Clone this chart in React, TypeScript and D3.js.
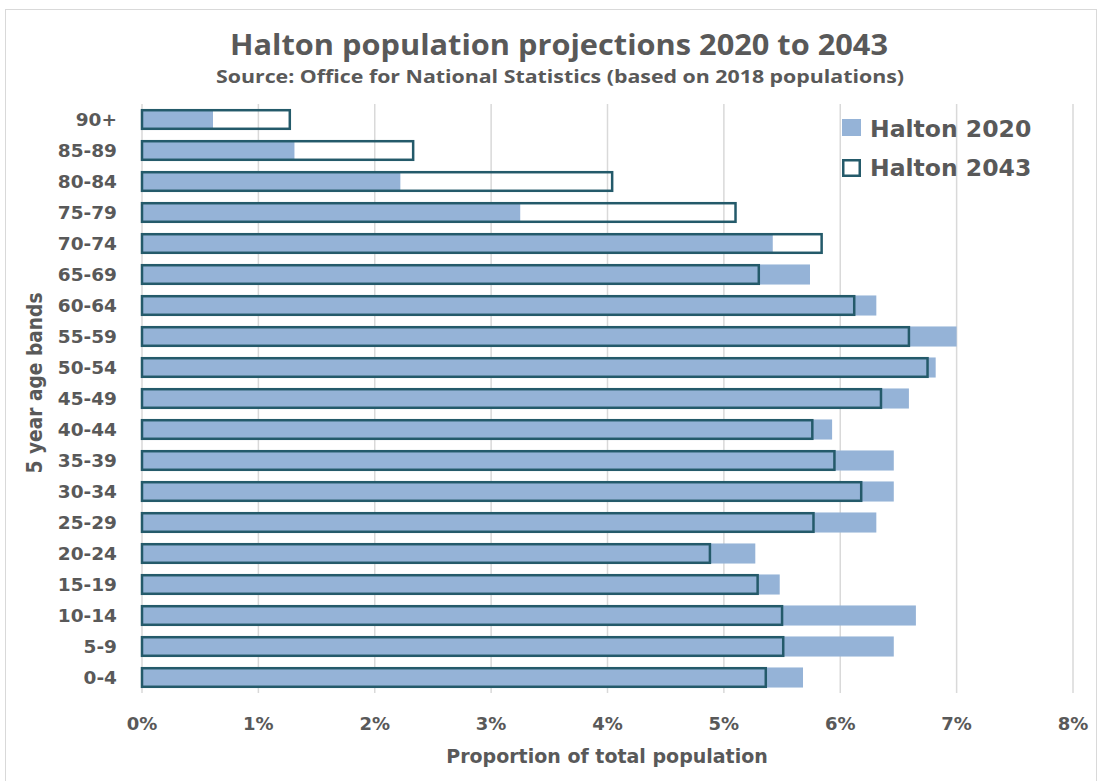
import React from 'react';
import * as d3 from 'd3';

const categories = ['90+', '85-89', '80-84', '75-79', '70-74', '65-69', '60-64', '55-59', '50-54', '45-49', '40-44', '35-39', '30-34', '25-29', '20-24', '15-19', '10-14', '5-9', '0-4'];
const halton2020 = [0.61, 1.31, 2.22, 3.25, 5.42, 5.74, 6.31, 7.0, 6.82, 6.59, 5.93, 6.46, 6.46, 6.31, 5.27, 5.48, 6.65, 6.46, 5.68];
const halton2043 = [1.27, 2.33, 4.04, 5.1, 5.84, 5.3, 6.12, 6.59, 6.75, 6.35, 5.76, 5.95, 6.18, 5.77, 4.88, 5.29, 5.5, 5.51, 5.36];
const xTicks = [0, 1, 2, 3, 4, 5, 6, 7, 8];

const W = 1099;
const H = 781;
const TEXT = '#595959';
const FILL = '#95B3D7';
const EDGE = '#245a6a';
const GRID = '#d9d9d9';
const LABEL_FONT = '"DejaVu Sans", Verdana, sans-serif';

export default function App() {
  const x = d3.scaleLinear().domain([0, 8]).range([142, 1073]);
  const y = d3.scaleBand<string>()
    .domain(categories)
    .range([104, 693])
    .paddingInner(0.32)
    .paddingOuter(0.16);
  const bw = y.bandwidth();
  const [y0, y1] = y.range();

  return (
    <svg
      width={W}
      height={H}
      viewBox={`0 0 ${W} ${H}`}
      style={{ position: 'absolute', left: 0, top: 0, background: '#fff' }}
    >
      <rect x={5.5} y={9.5} width={1091} height={790} fill="#fff" stroke={GRID} strokeWidth={1} />

      {/* titles */}
      <text x={559} y={55} textAnchor="middle" fill={TEXT}
        fontFamily='"Liberation Sans Narrow", "Open Sans", sans-serif' fontWeight={700} fontSize={29}
        textLength={658} lengthAdjust="spacingAndGlyphs">
        Halton population projections 2020 to 2043
      </text>
      <text x={560} y={83} textAnchor="middle" fill={TEXT}
        fontFamily='"Liberation Sans Narrow", "Open Sans", sans-serif' fontWeight={700} fontSize={17.5}
        textLength={688} lengthAdjust="spacingAndGlyphs">
        Source: Office for National Statistics (based on 2018 populations)
      </text>

      {/* gridlines */}
      {xTicks.map(t => (
        <line key={t} x1={x(t)} x2={x(t)} y1={y0} y2={y1} stroke={GRID} strokeWidth={1.5} />
      ))}

      {/* 2020 filled bars */}
      {categories.map((c, i) => (
        <rect key={'a' + c} x={x(0)} y={(y(c) ?? 0) + 0.5} width={x(halton2020[i]) - x(0)} height={bw - 1} fill={FILL} />
      ))}

      {/* 2043 outline bars */}
      {categories.map((c, i) => (
        <rect key={'b' + c} x={x(0)} y={(y(c) ?? 0) + 1.25} width={x(halton2043[i]) - x(0)} height={bw - 2.5}
          fill="none" stroke={EDGE} strokeWidth={2.5} />
      ))}

      {/* y tick labels */}
      {categories.map(c => (
        <text key={'t' + c} x={117} y={(y(c) ?? 0) + bw / 2} dy="0.36em" textAnchor="end" fill={TEXT}
          fontFamily={LABEL_FONT} fontWeight={700} fontSize={18.5}>
          {c}
        </text>
      ))}

      {/* x tick labels */}
      {xTicks.map(t => (
        <text key={'x' + t} x={x(t)} y={730} textAnchor="middle" fill={TEXT}
          fontFamily={LABEL_FONT} fontWeight={700} fontSize={18}>
          {`${t}%`}
        </text>
      ))}

      {/* axis titles */}
      <text x={607} y={763} textAnchor="middle" fill={TEXT} fontFamily={LABEL_FONT} fontWeight={700} fontSize={19}>
        Proportion of total population
      </text>
      <text transform="translate(42,383) rotate(-90)" textAnchor="middle" fill={TEXT}
        fontFamily={LABEL_FONT} fontWeight={700} fontSize={21} textLength={181} lengthAdjust="spacingAndGlyphs">
        5 year age bands
      </text>

      {/* legend */}
      <rect x={842} y={119} width={19} height={17} fill={FILL} />
      <text x={870} y={137} fill={TEXT} fontFamily={LABEL_FONT} fontWeight={700} fontSize={23.5}>Halton 2020</text>
      <rect x={843.25} y={160.25} width={16.5} height={15.5} fill="none" stroke={EDGE} strokeWidth={2.5} />
      <text x={870} y={176} fill={TEXT} fontFamily={LABEL_FONT} fontWeight={700} fontSize={23.5}>Halton 2043</text>
    </svg>
  );
}
